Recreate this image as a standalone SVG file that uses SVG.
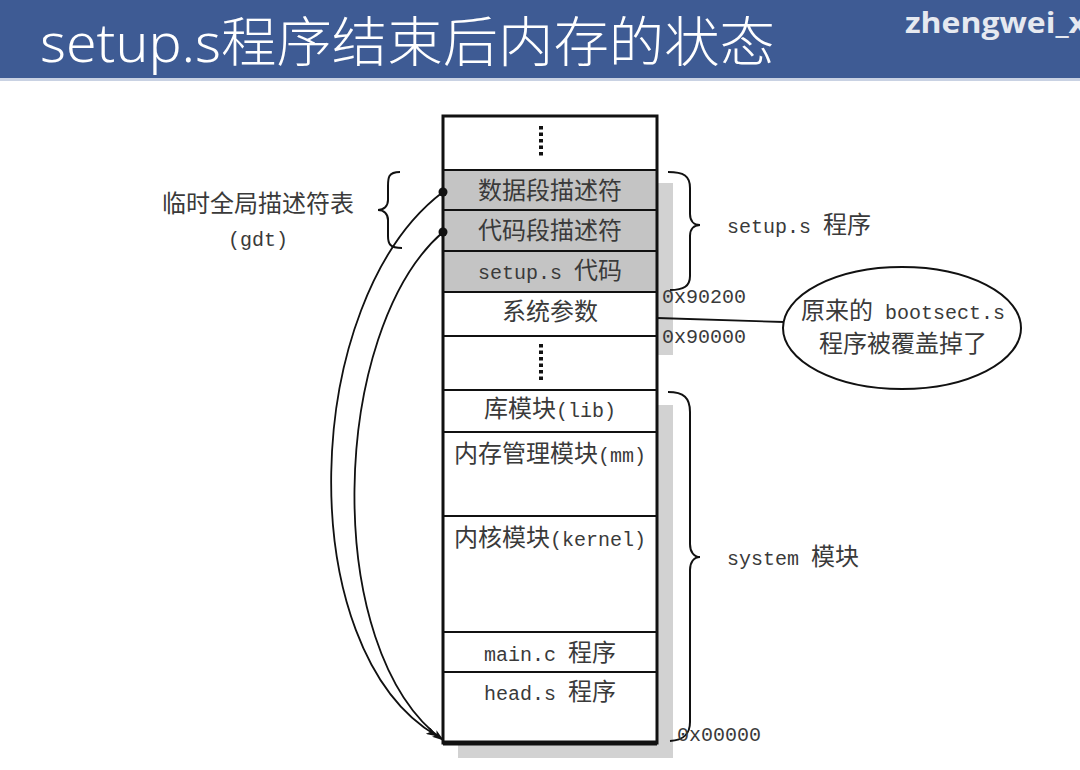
<svg xmlns="http://www.w3.org/2000/svg" width="1080" height="770" viewBox="0 0 1080 770">
<style>
.t{font-family:"Liberation Mono","Noto Sans CJK SC",monospace;font-size:20px;fill:#3a3a3a}
.z{font-family:"Noto Sans CJK SC",sans-serif;font-size:24px}
.c{text-anchor:middle}
.row{stroke:#111;stroke-width:2}
.br{fill:none;stroke:#111;stroke-width:2}
.conn{fill:none;stroke:#111;stroke-width:1.8}
</style>
<defs>
<marker id="ah" viewBox="0 0 12 8" refX="11" refY="4" markerWidth="12" markerHeight="8" markerUnits="userSpaceOnUse" orient="auto">
<path d="M0,0 L12,4 L0,8 L3,4 Z" fill="#111"/>
</marker>
</defs>
<rect width="1080" height="770" fill="#fff"/>
<g id="header">
<rect x="0" y="0" width="1080" height="78" fill="#3E5B94"/>
<rect x="0" y="78" width="1080" height="3" fill="#c9d2e3"/>
<text x="40" y="62" font-family="'Noto Sans','Noto Sans CJK SC',sans-serif" font-size="54" font-weight="300" fill="#fff" textLength="735" lengthAdjust="spacingAndGlyphs">setup.s程序结束后内存的状态</text>
<text x="905" y="33" font-family="'Open Sans','Liberation Sans',sans-serif" font-size="29" font-weight="bold" fill="#e6e9f0" textLength="182" lengthAdjust="spacingAndGlyphs">zhengwei_x</text>
</g>
<g id="shadow" fill="#d2d2d2">
<rect x="657" y="183" width="16" height="172"/>
<rect x="657" y="405" width="16" height="353"/>
<rect x="458" y="743" width="215" height="15"/>
</g>
<g id="memory">
<rect x="443" y="170" width="214" height="122" fill="#c4c4c4"/>
<rect x="443" y="116" width="214" height="627" fill="none" stroke="#111" stroke-width="3"/>
<line x1="443" y1="743" x2="657" y2="743" stroke="#111" stroke-width="5"/>
<line class="row" x1="443" y1="170" x2="657" y2="170"/>
<line class="row" x1="443" y1="210" x2="657" y2="210"/>
<line class="row" x1="443" y1="251" x2="657" y2="251"/>
<line class="row" x1="443" y1="292" x2="657" y2="292"/>
<line class="row" x1="443" y1="336" x2="657" y2="336"/>
<line class="row" x1="443" y1="390" x2="657" y2="390"/>
<line class="row" x1="443" y1="432" x2="657" y2="432"/>
<line class="row" x1="443" y1="516" x2="657" y2="516"/>
<line class="row" x1="443" y1="632" x2="657" y2="632"/>
<line class="row" x1="443" y1="672" x2="657" y2="672"/>
<line x1="541" y1="126" x2="541" y2="156" stroke="#111" stroke-width="4" stroke-dasharray="3.5 3"/>
<line x1="541" y1="344" x2="541" y2="382" stroke="#111" stroke-width="4" stroke-dasharray="3.5 3"/>
<text class="t c" x="550" y="199"><tspan class="z">数据段描述符</tspan></text>
<text class="t c" x="550" y="239"><tspan class="z">代码段描述符</tspan></text>
<text class="t c" x="550" y="279">setup.s <tspan class="z">代码</tspan></text>
<text class="t c" x="550" y="320"><tspan class="z">系统参数</tspan></text>
<text class="t c" x="550" y="417"><tspan class="z">库模块</tspan>(lib)</text>
<text class="t c" x="550" y="462"><tspan class="z">内存管理模块</tspan>(mm)</text>
<text class="t c" x="550" y="546"><tspan class="z">内核模块</tspan>(kernel)</text>
<text class="t c" x="550" y="661">main.c <tspan class="z">程序</tspan></text>
<text class="t c" x="550" y="700">head.s <tspan class="z">程序</tspan></text>
</g>
<g id="gdt-label">
<path class="br" d="M400,172 C388,172 388,178 388,186 L388,200 C388,206 384,210 378,210 C384,210 388,214 388,220 L388,236 C388,244 390,248 402,248"/>
<text class="t c" x="258" y="212"><tspan class="z">临时全局描述符表</tspan></text>
<text class="t c" x="258" y="246">(gdt)</text>
</g>
<g id="setup-label">
<path class="br" d="M668,172 C684,172 690,176 690,188 L690,214 C690,221 694,225 700,225 C694,225 690,229 690,236 L690,276 C690,286 684,290 670,290"/>
<text class="t" x="727" y="233">setup.s <tspan class="z">程序</tspan></text>
</g>
<g id="system-label">
<path class="br" d="M668,392 C684,392 690,398 690,412 L690,544 C690,552 694,557 700,557 C694,557 690,562 690,570 L690,722 C690,734 684,740 670,741"/>
<text class="t" x="727" y="565">system <tspan class="z">模块</tspan></text>
</g>
<g id="addresses">
<text class="t" x="662" y="303">0x90200</text>
<text class="t" x="662" y="343">0x90000</text>
<text class="t" x="677" y="741">0x00000</text>
</g>
<g id="bootsect-note">
<ellipse cx="902" cy="328" rx="119" ry="61" fill="#fff" stroke="#111" stroke-width="2"/>
<text class="t c" x="903" y="319"><tspan class="z">原来的</tspan> bootsect.s</text>
<text class="t c" x="903" y="352"><tspan class="z">程序被覆盖掉了</tspan></text>
</g>
<g id="connectors">
<line class="conn" x1="657" y1="318" x2="784" y2="322"/>
<path class="conn" d="M443,192 C300,300 290,650 437,736" marker-end="url(#ah)"/>
<path class="conn" d="M443,232 C330,330 320,650 443,740" marker-end="url(#ah)"/>
<circle cx="443" cy="192" r="4.5" fill="#111"/>
<circle cx="443" cy="232" r="4.5" fill="#111"/>
</g>
</svg>
